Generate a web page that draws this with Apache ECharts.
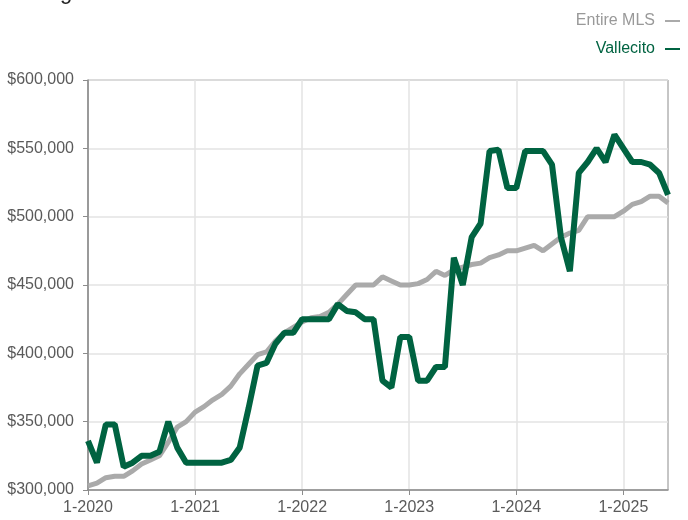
<!DOCTYPE html>
<html>
<head>
<meta charset="utf-8">
<script src="https://cdn.jsdelivr.net/npm/echarts@6/dist/echarts.min.js"></script>
<style>
html,body{margin:0;padding:0;background:#fff;}
#chart{width:688px;height:520px;}
</style>
</head>
<body>
<div id="chart"></div>
<script>
// Months Jan 2020 .. Jun 2025
const months = [];
for (let y = 2020; y <= 2025; y++) {
  for (let m = 1; m <= 12; m++) {
    if (y === 2025 && m > 6) break;
    months.push(m + '-' + y);
  }
}

const mlsValues = [
  303000, 305000, 309000, 310000, 310000, 314000, 319000, 322000, 325000, 335000, 346000, 350000,
  357000, 361000, 366000, 370000, 376000, 385000, 392000, 399000, 401000, 409000, 415000, 419000,
  423000, 426000, 427000, 430000, 436000, 443000, 450000, 450000, 450000, 456000, 453000, 450000,
  450000, 451000, 454000, 460000, 457000, 461000, 463000, 465000, 466000, 470000, 472000, 475000,
  475000, 477000, 479000, 475000, 480000, 485000, 488000, 490000, 500000, 500000, 500000, 500000,
  504000, 509000, 511000, 515000, 515000, 510000
];

const vallecitoValues = [
  336000, 320000, 348000, 348000, 317000, 320000, 325000, 325000, 328000, 350000, 331000, 320000,
  320000, 320000, 320000, 320000, 322000, 331000, 360000, 391000, 393000, 407000, 415000, 415000,
  425000, 425000, 425000, 425000, 436000, 431000, 430000, 425000, 425000, 380000, 375000, 412000,
  412000, 380000, 380000, 390000, 390000, 470000, 450000, 485000, 495000, 548000, 549000, 521000,
  521000, 548000, 548000, 548000, 538000, 485000, 460000, 532000, 540000, 550000, 540000, 560000,
  550000, 540000, 540000, 538000, 532000, 516000
];

const seriesNames = ['Entire MLS', 'Vallecito'];
const titleText = 'Rolling 12-Month Calculation';

const FONT = '"Liberation Sans", Arial, Helvetica, sans-serif';
const GRAY = '#aaaaaa';
const GREEN = '#006341';
const LABEL = '#5a5a5a';
const AXIS = '#8c8c8c';

const chart = echarts.init(document.getElementById('chart'));
chart.setOption({
  animation: false,
  textStyle: { fontFamily: FONT },
  graphic: [{
    type: 'text',
    left: 5,
    top: -18,
    style: { text: titleText, fontSize: 22, fill: '#222', fontFamily: FONT }
  }],
  legend: {
    orient: 'vertical',
    right: 3,
    top: 8,
    align: 'right',
    icon: 'rect',
    itemWidth: 15,
    itemHeight: 2,
    itemGap: 12,
    textStyle: { fontSize: 16, fontFamily: FONT, padding: [0, 5, 0, 0] },
    data: [
      { name: seriesNames[0], textStyle: { color: '#999999' } },
      { name: seriesNames[1], textStyle: { color: GREEN } }
    ]
  },
  grid: {
    left: 88, right: 20, top: 80, bottom: 30,
    show: true, borderColor: AXIS, borderWidth: 1
  },
  xAxis: {
    type: 'category',
    data: months,
    boundaryGap: false,
    axisLine: { show: true, lineStyle: { color: AXIS, width: 1.5 } },
    axisTick: { show: true, length: 5, interval: (i) => i % 12 === 0, lineStyle: { color: AXIS } },
    axisLabel: {
      interval: (i) => i % 12 === 0,
      color: LABEL, fontSize: 16, margin: 10, fontFamily: FONT
    },
    splitLine: { show: true, interval: (i) => i % 12 === 0 && i > 0, lineStyle: { color: '#e3e3e3', width: 1.5 } }
  },
  yAxis: {
    type: 'value',
    min: 300000, max: 600000, interval: 50000,
    axisLine: { show: true, lineStyle: { color: AXIS, width: 1.5 } },
    axisTick: { show: true, length: 5, lineStyle: { color: AXIS } },
    axisLabel: {
      color: LABEL, fontSize: 16, margin: 14, fontFamily: FONT,
      formatter: (v) => '$' + v.toLocaleString('en-US')
    },
    splitLine: { show: true, lineStyle: { color: '#e3e3e3', width: 1.5 } }
  },
  series: [
    {
      name: seriesNames[0], type: 'line', data: mlsValues,
      symbol: 'none', lineStyle: { color: GRAY, width: 5 }, itemStyle: { color: GRAY }
    },
    {
      name: seriesNames[1], type: 'line', data: vallecitoValues,
      symbol: 'none', lineStyle: { color: GREEN, width: 6 }, itemStyle: { color: GREEN }
    }
  ]
});
</script>
</body>
</html>
